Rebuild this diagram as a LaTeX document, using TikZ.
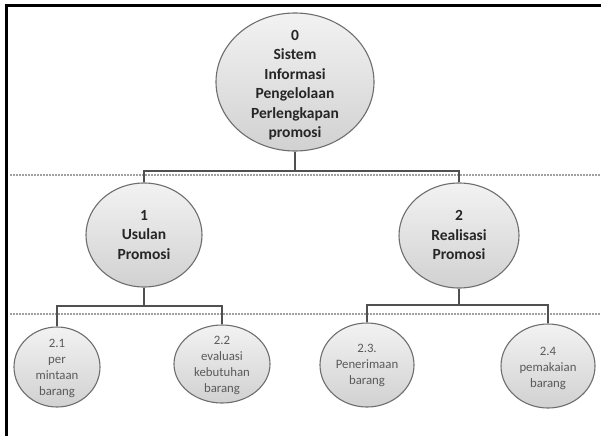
\documentclass[tikz,border=0pt]{standalone}
\usepackage{fontspec}
\setmainfont{Carlito}
\usetikzlibrary{shapes.geometric}
\definecolor{rim}{HTML}{6E6E6E}
\definecolor{linkgray}{HTML}{505050}
\definecolor{levelgray}{HTML}{A0A0A0}
\definecolor{headtext}{HTML}{262626}
\definecolor{subtext}{HTML}{5A5A5A}
\tikzset{
  proc/.style={ellipse, draw=rim, line width=1.1pt, inner sep=0pt,
    top color=gray!10, bottom color=gray!36, shading angle=0},
  headlbl/.style={align=center, text=headtext, inner sep=0pt,
    font=\fontsize{15.5}{19.5}\selectfont\bfseries},
  sublbl/.style={align=center, text=subtext, inner sep=0pt,
    font=\fontsize{12.8}{16}\selectfont},
  link/.style={draw=linkgray, line width=1.1pt},
  level/.style={draw=levelgray, line width=2.6pt, dash pattern=on 2pt off 1pt},
  frameline/.style={draw=black, line width=2.7pt}
}
\begin{document}
\begin{tikzpicture}[x=1pt, y=-1pt]
\useasboundingbox (0,0) rectangle (601,436);
\fill[white] (0,0) rectangle (601,436);

% frame edges
\draw[frameline] (4.5,5.3) -- (601,5.3);
\draw[frameline] (6.3,4) -- (6.3,436);

% level separators
\draw[level] (10,175) -- (601,175);
\draw[level] (10,314) -- (601,314);

% processes
\node[proc, minimum width=158pt, minimum height=138pt] (p0) at (295,82) {};
\node[proc, minimum width=116pt, minimum height=104pt] (p1) at (144,235) {};
\node[proc, minimum width=120pt, minimum height=105pt] (p2) at (459,235.5) {};
\node[proc, minimum width=86pt, minimum height=80pt] (p21) at (57,367) {};
\node[proc, minimum width=96pt, minimum height=78pt] (p22) at (222,364) {};
\node[proc, minimum width=94pt, minimum height=84pt] (p23) at (367,365) {};
\node[proc, minimum width=94pt, minimum height=84pt] (p24) at (548,366) {};

% labels
\node[headlbl] (t0) at (295,85) {0\\Sistem\\Informasi\\Pengelolaan\\Perlengkapan\\promosi};
\node[headlbl] (t1) at (144,235) {1\\Usulan\\Promosi};
\node[headlbl] (t2) at (459,235) {2\\Realisasi\\Promosi};
\node[sublbl] (t21) at (57,368) {2.1\\per\\mintaan\\barang};
\node[sublbl] (t22) at (222,365) {2.2\\evaluasi\\kebutuhan\\barang};
\node[sublbl] (t23) at (367,365) {2.3.\\Penerimaan\\barang};
\node[sublbl] (t24) at (548,368) {2.4\\pemakaian\\barang};

% tree connectors
\coordinate (j0) at (295,171);
\coordinate (j1) at (144,306);
\coordinate (j2) at (459,305);
\draw[link] (p0.south) -- (j0) -| (p1.north);
\draw[link] (j0) -| (p2.north);
\draw[link] (p1.south) -- (j1) -| (p21.north);
\draw[link] (j1) -| (p22.north);
\draw[link] (p2.south) -- (j2) -| (p23.north);
\draw[link] (j2) -| (p24.north);
\end{tikzpicture}
\end{document}
